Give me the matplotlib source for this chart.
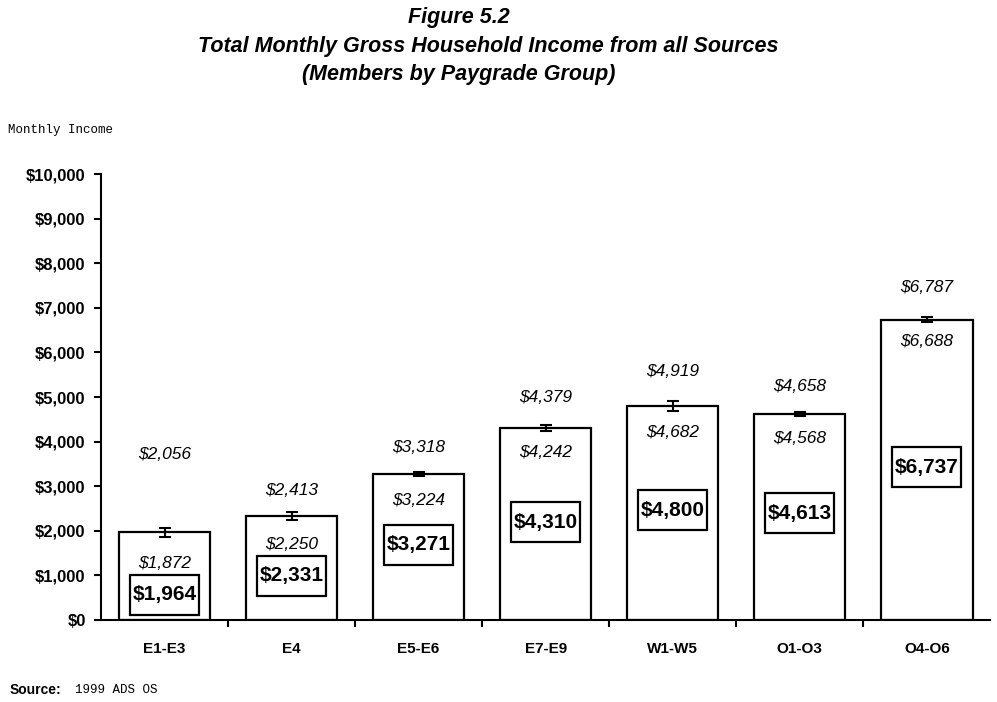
import numpy as np
import matplotlib.pyplot as plt
from matplotlib.patches import Rectangle
from matplotlib.ticker import FuncFormatter, FixedLocator

# data
groups = ["E1-E3", "E4", "E5-E6", "E7-E9", "W1-W5", "O1-O3", "O4-O6"]
mean_income = [1964, 2331, 3271, 4310, 4800, 4613, 6737]
ci_low = [1872, 2250, 3224, 4242, 4682, 4568, 6688]
ci_high = [2056, 2413, 3318, 4379, 4919, 4658, 6787]

# where the labels sit (data units, picked by eye)
high_label_y = [3700, 2915, 3879, 4978, 5561, 5247, 7466]
low_label_y = [1278, 1704, 2690, 3767, 4215, 4081, 6256]
box_label_y = [561, 987, 1682, 2197, 2466, 2399, 3430]

plt.rcParams['font.family'] = ['Liberation Sans', 'DejaVu Sans']

fig = plt.figure(figsize=(9.97, 7.02), dpi=100)
ax = fig.add_axes([0.1013, 0.1168, 0.892, 0.6353])

x = np.arange(len(groups))
mean_income = np.array(mean_income)
yerr = [mean_income - np.array(ci_low), np.array(ci_high) - mean_income]

ax.bar(x, mean_income, width=0.72, color='white', edgecolor='black', linewidth=1.6, zorder=2)
ax.errorbar(x, mean_income, yerr=yerr, fmt='none', ecolor='black', elinewidth=1.5,
            capsize=4, capthick=1.5, zorder=3)

for i in range(len(groups)):
    ax.text(x[i], high_label_y[i], "${:,}".format(ci_high[i]), ha='center', va='center',
            fontsize=12.5, style='italic')
    ax.text(x[i], low_label_y[i], "${:,}".format(ci_low[i]), ha='center', va='center',
            fontsize=12.5, style='italic')
    ax.add_patch(Rectangle((x[i] - 0.27, box_label_y[i] - 440), 0.54, 880, facecolor='white',
                           edgecolor='black', linewidth=1.6, zorder=4))
    ax.text(x[i], box_label_y[i], "${:,}".format(mean_income[i]), ha='center', va='center',
            fontsize=15, fontweight='bold', zorder=5)

ax.set_xlim(-0.5, len(groups) - 0.5)
ax.set_ylim(0, 10000)
ax.set_yticks(np.arange(0, 10001, 1000))
ax.yaxis.set_major_formatter(FuncFormatter(lambda v, p: "${:,.0f}".format(v)))
ax.set_xticks(x)
ax.set_xticklabels(groups)
ax.xaxis.set_minor_locator(FixedLocator(np.arange(0.5, len(groups) - 0.5, 1)))
ax.tick_params(axis='x', which='major', length=0, pad=16)
ax.tick_params(axis='x', which='minor', length=5, width=1.5, direction='out')
ax.tick_params(axis='y', length=5, width=1.5, direction='out', pad=6)
for lab in ax.get_xticklabels():
    lab.set_fontweight('bold')
    lab.set_fontsize(11)
for lab in ax.get_yticklabels():
    lab.set_fontweight('bold')
    lab.set_fontsize(12)

for s in ['top', 'right']:
    ax.spines[s].set_visible(False)
for s in ['left', 'bottom']:
    ax.spines[s].set_linewidth(1.5)

fig.text(0.46, 0.975, "Figure 5.2", ha='center', va='center', fontsize=15.5,
         fontweight='bold', style='italic')
fig.text(0.49, 0.934, "Total Monthly Gross Household Income from all Sources", ha='center',
         va='center', fontsize=15.5, fontweight='bold', style='italic')
fig.text(0.46, 0.894, "(Members by Paygrade Group)", ha='center', va='center', fontsize=15.5,
         fontweight='bold', style='italic')
fig.text(0.008, 0.815, "Monthly Income", ha='left', va='center', fontsize=9,
         family='Liberation Mono')
fig.text(0.01, 0.017, "Source:", ha='left', va='center', fontsize=10, fontweight='bold')
fig.text(0.075, 0.017, "1999 ADS OS", ha='left', va='center', fontsize=9, family='Liberation Mono')

fig.savefig('out.png', dpi=100)
